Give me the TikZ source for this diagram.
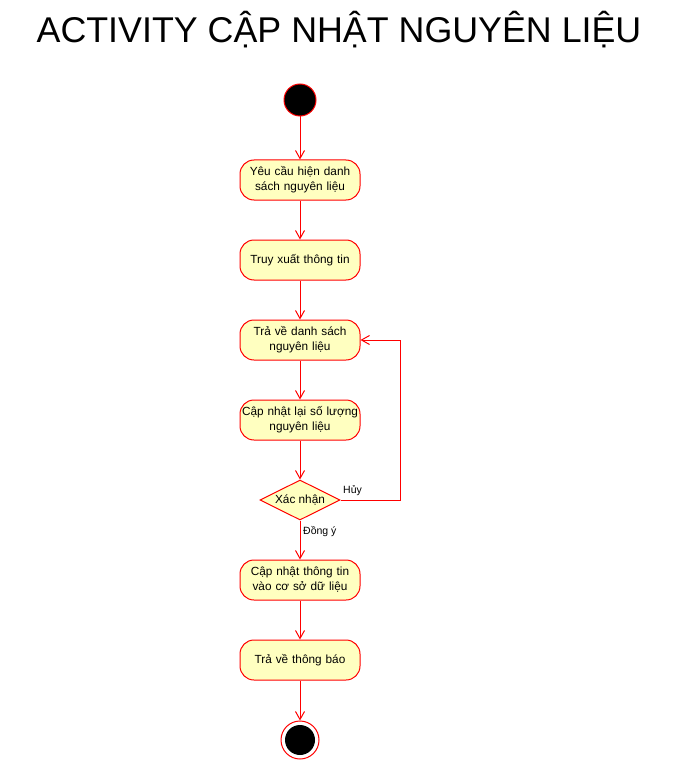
\documentclass[tikz,border=0pt]{standalone}
\usepackage{fontspec}
\setmainfont{Liberation Sans}
\usetikzlibrary{arrows.meta,shapes.geometric}
\definecolor{actfill}{HTML}{FFFFC0}
\definecolor{actred}{HTML}{FF0000}
\begin{document}
\begin{tikzpicture}[x=1pt,y=-1pt,
  actbox/.style={draw=actred,fill=actfill,rounded corners=14pt,minimum width=120pt,minimum height=40pt,
    text width=118pt,align=center,font=\fontsize{11.8}{15}\selectfont,inner sep=0pt,line width=1pt},
  decide/.style={draw=actred,fill=actfill,diamond,minimum width=80pt,minimum height=40pt,inner sep=0pt,
    aspect=2,font=\fontsize{11.8}{14}\selectfont,line width=1pt},
  flow/.style={draw=actred,line width=1pt,-{Straight Barb[length=8pt,width=9pt]}},
  lbl/.style={font=\fontsize{10.5}{12}\selectfont,inner sep=0pt}]
\useasboundingbox (0,0) rectangle (682,762);
\node[font=\fontsize{35.8}{40}\selectfont] (title) at (339,30) {ACTIVITY CẬP NHẬT NGUYÊN LIỆU};
\node[circle,fill=black,draw=actred,line width=1pt,minimum size=32pt,inner sep=0pt] (start) at (300,100) {};
\node[actbox] (a1) at (300,180) {Yêu cầu hiện danh\\sách nguyên liệu};
\node[actbox] (a2) at (300,260) {Truy xuất thông tin};
\node[actbox] (a3) at (300,340) {Trả về danh sách\\nguyên liệu};
\node[actbox] (a4) at (300,420) {Cập nhật lại số lượng\\nguyên liệu};
\node[decide] (d) at (300,500) {Xác nhận};
\node[actbox] (a5) at (300,580) {Cập nhật thông tin\\vào cơ sở dữ liệu};
\node[actbox] (a6) at (300,660) {Trả về thông báo};
\node[circle,draw=actred,fill=white,line width=1pt,minimum size=38pt,inner sep=0pt] (end) at (300,740) {};
\node[circle,fill=black,minimum size=30pt,inner sep=0pt] (endin) at (300,740) {};
\coordinate (c1) at (400,500);
\coordinate (c2) at (400,340);
\draw[flow] (start) -- (a1);
\draw[flow] (a1) -- (a2);
\draw[flow] (a2) -- (a3);
\draw[flow] (a3) -- (a4);
\draw[flow] (a4) -- (d);
\draw[flow] (d) -- (a5);
\draw[flow] (a5) -- (a6);
\draw[flow] (a6) -- (end);
\draw[flow] (d.east) -- (c1) -- (c2) -- (a3.east);
\node[lbl,anchor=south west] (huy) at (343,496) {Hủy};
\node[lbl,anchor=west] (dy) at (303,532) {Đồng ý};
\end{tikzpicture}
\end{document}
